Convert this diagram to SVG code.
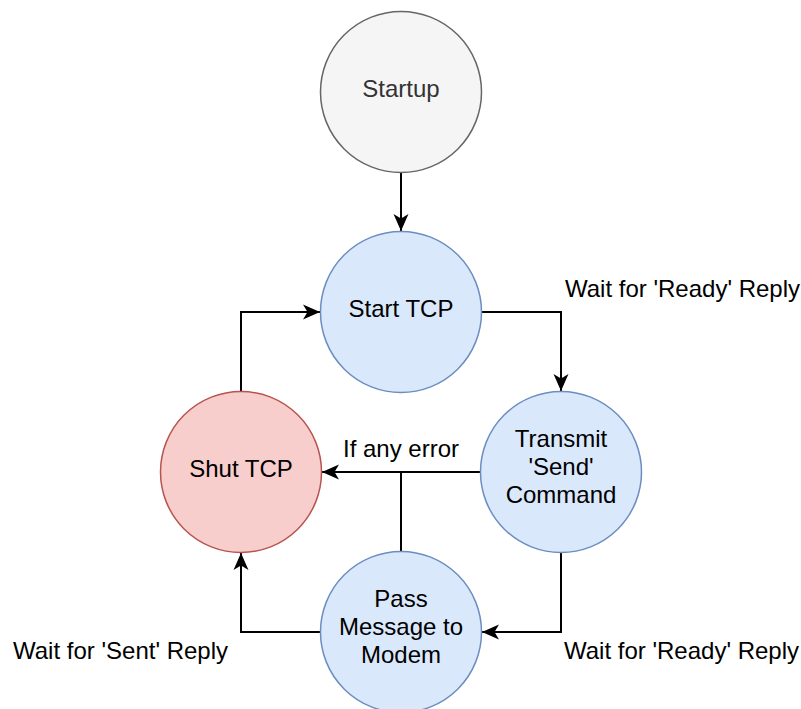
<svg xmlns="http://www.w3.org/2000/svg" width="801" height="709" viewBox="0 0 801 709">
  <style>
    text { font-family: "Liberation Sans", Arial, sans-serif; font-size: 24px; fill: #000; }
    .mid { text-anchor: middle; }
    .grey { fill: #f5f5f5; stroke: #666666; stroke-width: 1.5; }
    .blue { fill: #dae8fc; stroke: #6c8ebf; stroke-width: 1.5; }
    .red { fill: #f8cecc; stroke: #b85450; stroke-width: 1.5; }
    .edge { fill: none; stroke: #000; stroke-width: 2; }
  </style>
  <defs>
    <marker id="arrow" markerUnits="userSpaceOnUse" markerWidth="18" markerHeight="16" refX="17" refY="8" orient="auto">
      <path d="M0,0.5 L17,8 L0,15.5 L4.5,8 Z" fill="#000"/>
    </marker>
  </defs>
  <rect width="801" height="709" fill="#fff"/>

  <g id="connectors">
    <path class="edge" d="M401,172 L401,231" marker-end="url(#arrow)"/>
    <path class="edge" d="M481,312 L561,312 L561,391" marker-end="url(#arrow)"/>
    <path class="edge" d="M481,472 L322,472" marker-end="url(#arrow)"/>
    <path class="edge" d="M401,552 L401,472"/>
    <path class="edge" d="M561,552 L561,632 L482,632" marker-end="url(#arrow)"/>
    <path class="edge" d="M321,632 L241,632 L241,553" marker-end="url(#arrow)"/>
    <path class="edge" d="M241,392 L241,312 L320,312" marker-end="url(#arrow)"/>
    <text x="565" y="297">Wait for 'Ready' Reply</text>
    <text x="401" y="457" class="mid">If any error</text>
    <text x="564" y="659">Wait for 'Ready' Reply</text>
    <text x="13" y="659">Wait for 'Sent' Reply</text>
  </g>

  <g id="startup">
    <circle class="grey" cx="401" cy="92" r="80.5"/>
    <text x="401" y="97" class="mid" style="fill:#333">Startup</text>
  </g>
  <g id="start-tcp">
    <circle class="blue" cx="401" cy="312" r="80.5"/>
    <text x="401" y="317" class="mid">Start TCP</text>
  </g>
  <g id="transmit-send">
    <circle class="blue" cx="561" cy="472" r="80.5"/>
    <text x="561" y="447" class="mid">Transmit</text>
    <text x="561" y="475" class="mid">'Send'</text>
    <text x="561" y="503" class="mid">Command</text>
  </g>
  <g id="shut-tcp">
    <circle class="red" cx="241" cy="472" r="80.5"/>
    <text x="241" y="477" class="mid">Shut TCP</text>
  </g>
  <g id="pass-message">
    <circle class="blue" cx="401" cy="632" r="80.5"/>
    <text x="401" y="607" class="mid">Pass</text>
    <text x="401" y="635" class="mid">Message to</text>
    <text x="401" y="663" class="mid">Modem</text>
  </g>
</svg>
